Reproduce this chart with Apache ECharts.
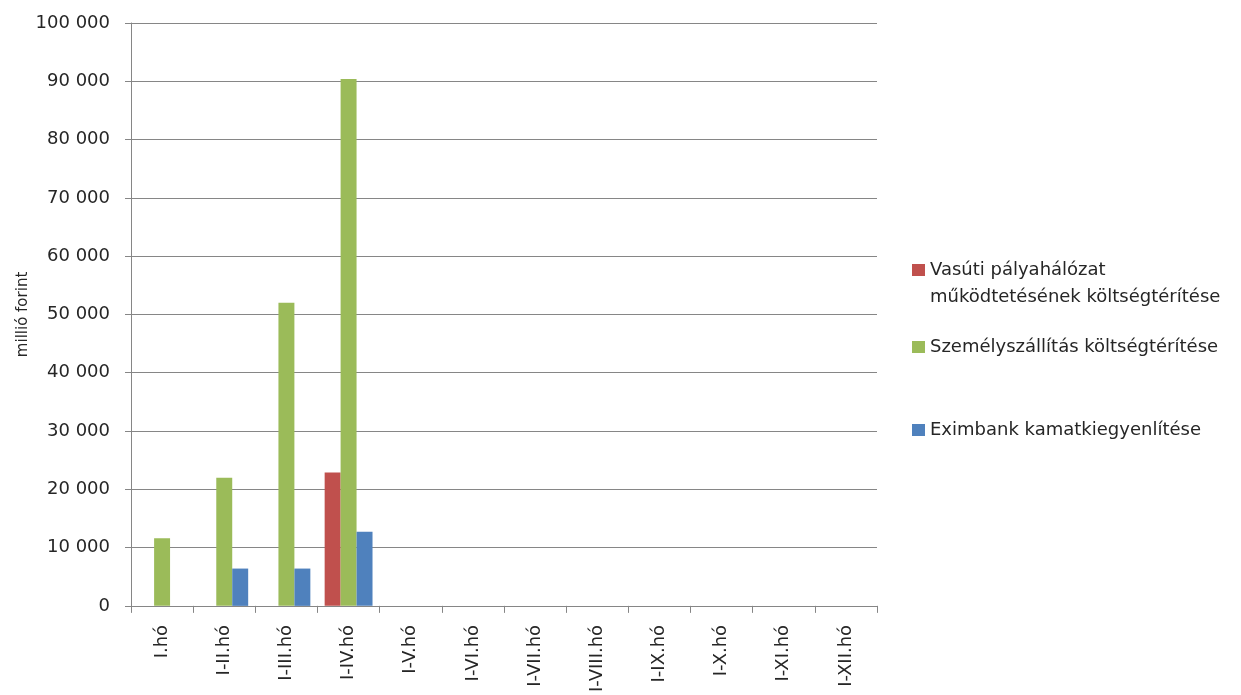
<!DOCTYPE html>
<html><head><meta charset="utf-8">
<script src="https://cdn.jsdelivr.net/npm/echarts@6/dist/echarts.min.js"></script>
<style>html,body{margin:0;padding:0;background:#fff}#c{width:1241px;height:695px}</style>
</head><body><div id="c"></div>
<script>
const categories = ['I.hó','I-II.hó','I-III.hó','I-IV.hó','I-V.hó','I-VI.hó','I-VII.hó','I-VIII.hó','I-IX.hó','I-X.hó','I-XI.hó','I-XII.hó'];
const vasuti = [null, null, null, 22900, null, null, null, null, null, null, null, null];
const szemely = [11600, 22000, 52000, 90400, null, null, null, null, null, null, null, null];
const eximbank = [null, 6400, 6400, 12700, null, null, null, null, null, null, null, null];
const seriesNames = ['Vasúti pályahálózat működtetésének költségtérítése', 'Személyszállítás költségtérítése', 'Eximbank kamatkiegyenlítése'];
const legendLine1 = 'Vasúti pályahálózat';
const legendLine2 = 'működtetésének költségtérítése';
const colors = ['#C0504D', '#9BBB59', '#4F81BD'];

const font = '"DejaVu Sans", "Open Sans", sans-serif';
const textColor = '#262626';
const chart = echarts.init(document.getElementById('c'));
const legendBase = {
  orient: 'vertical', left: 912, itemWidth: 13, itemHeight: 12, padding: 0,
  icon: 'rect', selectedMode: false,
  textStyle: { fontFamily: font, fontSize: 18, color: textColor, lineHeight: 22 }
};
chart.setOption({
  animation: false,
  color: colors,
  grid: { left: 131, right: 364, top: 23, bottom: 88, containLabel: false },
  legend: [
    Object.assign({}, legendBase, { data: [seriesNames[0]], top: 259, formatter: () => legendLine1 }),
    Object.assign({}, legendBase, { data: [seriesNames[1]], top: 336 }),
    Object.assign({}, legendBase, { data: [seriesNames[2]], top: 419 })
  ],
  graphic: [{
    type: 'text', left: 930, top: 288,
    style: { text: legendLine2, font: '18px "DejaVu Sans", sans-serif', fill: textColor }
  }],
  xAxis: {
    type: 'category', data: categories,
    axisLine: { lineStyle: { color: '#868686', width: 1 } },
    axisTick: { show: true, length: 7, lineStyle: { color: '#868686' } },
    axisLabel: { rotate: 90, interval: 0, fontFamily: font, fontSize: 18, color: textColor, margin: 19 }
  },
  yAxis: {
    type: 'value', min: 0, max: 100000, interval: 10000,
    name: 'millió forint', nameLocation: 'middle', nameGap: 100, nameRotate: 90,
    nameMoveOverlap: false,
    nameTextStyle: { fontFamily: font, fontSize: 15, color: textColor },
    axisLine: { show: true, lineStyle: { color: '#868686' } },
    axisTick: { show: true, length: 6, lineStyle: { color: '#868686' } },
    splitLine: { lineStyle: { color: '#868686', width: 1 } },
    axisLabel: {
      fontFamily: font, fontSize: 18, color: textColor, margin: 21,
      formatter: v => String(v).replace(/\B(?=(\d{3})+(?!\d))/g, ' ')
    }
  },
  series: [
    { name: seriesNames[0], type: 'bar', data: vasuti, barGap: '0%', barCategoryGap: '23%', itemStyle: { color: colors[0] } },
    { name: seriesNames[1], type: 'bar', data: szemely, barGap: '0%', barCategoryGap: '23%', itemStyle: { color: colors[1] } },
    { name: seriesNames[2], type: 'bar', data: eximbank, barGap: '0%', barCategoryGap: '23%', itemStyle: { color: colors[2] } }
  ]
});
</script></body></html>
